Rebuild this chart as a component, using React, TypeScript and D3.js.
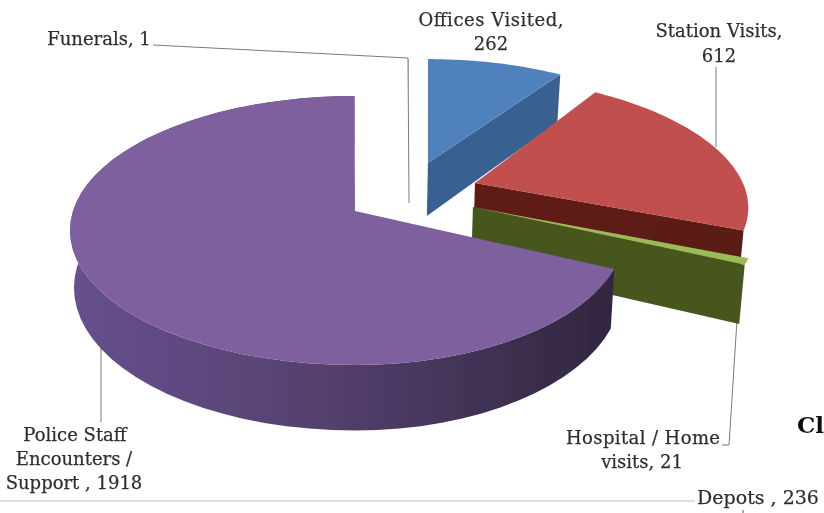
import React from "react";
import * as d3 from "d3";

// Values. Depots is only a stray label: it has no visible slice.
const sliceNames = ["Offices Visited", "Station Visits", "Hospital / Home visits", "Police Staff Encounters / Support", "Funerals"];
const sliceValues = [262, 612, 21, 1918, 1];
const topColors = ["#4f81bd", "#c0504d", "#9bbb59", "#7f609f", "#8a8a8a"];
const wallStart = ["#386090", "#5f1b19", "#46561f", "#66508e", "#8a8a8a"];
const wallEnd = ["#33577f", "#5a1a18", "#46561f", "#30263f", "#8a8a8a"];
const explodeU = [0.273, 0.439, 0.42, 0, 0.202];
const explodeV = [-0.385, -0.219, -0.03, 0, -0.385];
const pinApex = [true, false, true, false, true];
const radiusScale = [1, 0.98, 1, 1, 1];
const rightScale = [1, 1, 1, 0.95, 1];

const W = 824, H = 513;
const cx = 355, cy = 211, R = 282, Ry = 131.7, persp = 0.145, depth = 56, tilt = 0.014;

type L = { t: string; x: number; y: number; w?: number };
const labels: L[] = [
  { t: "Offices Visited,", x: 491, y: 26, w: 145 },
  { t: "262", x: 491, y: 50 },
  { t: "Station Visits,", x: 719, y: 37 },
  { t: "612", x: 719, y: 62 },
  { t: "Funerals, 1", x: 99, y: 45 },
  { t: "Police Staff", x: 75, y: 441 },
  { t: "Encounters /", x: 74, y: 465 },
  { t: "Support , 1918", x: 74, y: 489 },
  { t: "Hospital / Home", x: 643, y: 444, w: 154 },
  { t: "visits, 21", x: 642, y: 468 },
];

const leaders: [number, number][][] = [
  [[153, 45], [408, 58], [409, 203]],
  [[716, 67], [716, 147]],
  [[101, 345], [101, 422]],
  [[737, 320], [729, 445], [722, 445]],
];

const pie = d3.pie<number>().sort(null).startAngle(0).endAngle(2 * Math.PI);
const arcs = pie(sliceValues);
const line = d3.line();

export default function App() {
  const font = "'DejaVu Serif', serif";
  return (
    <svg width={W} height={H} viewBox={`0 0 ${W} ${H}`}
      style={{ position: "absolute", left: 0, top: 0, background: "#fff" }}>
      <defs>
        <filter id="soft" x="-5%" y="-5%" width="110%" height="110%">
          <feGaussianBlur stdDeviation="0.35" />
        </filter>
        {arcs.map((_, i) => (
          <linearGradient key={i} id={`wall${i}`} gradientUnits="userSpaceOnUse"
            x1={i === 3 ? 70 : 420} x2={i === 3 ? 615 : 750} y1={0} y2={0}>
            <stop offset="0" stopColor={wallStart[i]} />
            <stop offset="0.45" stopColor={i === 3 ? "#55416f" : wallStart[i]} />
            <stop offset="1" stopColor={wallEnd[i]} />
          </linearGradient>
        ))}
      </defs>
      <g filter="url(#soft)">
        <line x1={0} x2={695} y1={501} y2={501} stroke="#bdbdbd" strokeWidth={1} />
        <line x1={743} x2={743} y1={510} y2={513} stroke="#555" strokeWidth={1} />
        {leaders.map((p, i) => (
          <path key={i} d={line(p) as string} fill="none" stroke="#7a7a7a" strokeWidth={1} />
        ))}
        {[0, 1, 2, 4, 3].map((i) => {
          const a = arcs[i];
          const ou = explodeU[i], ov = explodeV[i], rs = radiusScale[i];
          const pt = (du: number, dv: number, z = 0): [number, number] => {
            const v = ov + dv;
            const d = 1 - persp * v;
            const d0 = 1 - persp * ov;
            const sx = du > 0 ? rightScale[i] : 1;
            const x = pinApex[i]
              ? cx + (R * ou) / d0 + (R * du * sx) / d
              : cx + (R * (ou + du * sx)) / d;
            return [x - (x - cx) * tilt * z, cy + (Ry * v + z * depth) / d];
          };
          const steps = d3.range(0, 61).map((s) => a.startAngle + ((a.endAngle - a.startAngle) * s) / 60);
          const rim = (z: number) => steps.map((t) => pt(rs * Math.sin(t), -rs * Math.cos(t), z));
          const endPt = (z: number) => pt(rs * Math.sin(a.endAngle), -rs * Math.cos(a.endAngle), z);
          const closed = (p: [number, number][]) => (line(p) as string) + "Z";
          return (
            <g key={i}>
              {i === 3 && <path d={closed([...rim(0), ...rim(1).reverse()])} fill={`url(#wall${i})`} />}
              {i !== 3 && i !== 4 && (
                <path d={closed([pt(0, 0), endPt(0), endPt(1), pt(0, 0, 1)])} fill={`url(#wall${i})`} />
              )}
              <path d={closed([pt(0, 0), ...rim(0)])} fill={topColors[i]} />
            </g>
          );
        })}
        <g fontFamily={font} fontSize={18} fill="#2f2f2f" textAnchor="middle" stroke="#2f2f2f" strokeWidth={0.25}>
          {labels.map((l) => (
            <text key={l.t} x={l.x} y={l.y} textLength={l.w} lengthAdjust={l.w ? "spacing" : undefined}>{l.t}</text>
          ))}
          <text x={758} y={504} fontSize={19}>Depots , 236</text>
          <text x={797} y={433} fontSize={23} fontWeight="bold" textAnchor="start" fill="#111" stroke="none">Cl</text>
        </g>
      </g>
    </svg>
  );
}
